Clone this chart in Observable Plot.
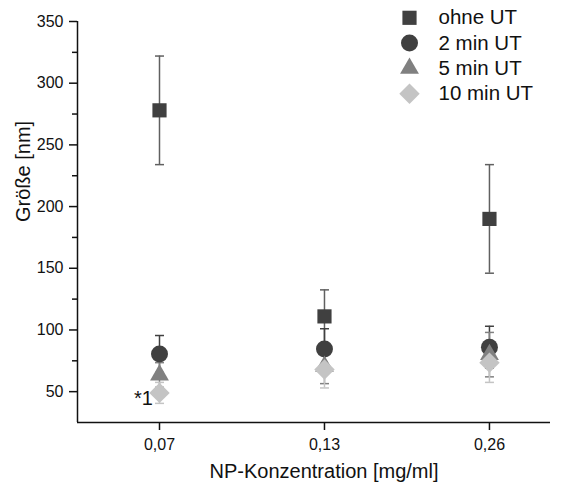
<!DOCTYPE html>
<html>
<head>
<meta charset="utf-8">
<script src="https://cdn.jsdelivr.net/npm/d3@7"></script>
<script src="https://cdn.jsdelivr.net/npm/@observablehq/plot@0.6"></script>
<style>
  html, body { margin: 0; padding: 0; background: #fff; }
  #chart { width: 568px; height: 489px; }
</style>
</head>
<body>
<div id="chart"></div>
<script>
// ---- data ----
const categories = ["0,07", "0,13", "0,26"];
const series = ["ohne UT", "2 min UT", "5 min UT", "10 min UT"];
const ohneUT = [278, 111, 190];
const ohneUTErr = [44, 21.5, 44];
const min2UT = [80.5, 84.5, 86];
const min2UTErr = [15, 16.5, 17];
const min5UT = [63.5, 70.5, 80];
const min5UTErr = [10, 14, 18];
const min10UT = [49, 68, 73.5];
const min10UTErr = [8.5, 15, 16];
const yMajorTicks = [50, 100, 150, 200, 250, 300, 350];
const yMinorTicks = [75, 125, 175, 225, 275, 325];
const annotationText = ["*1"];
const annotationCategory = [0];
const annotationValue = [49];

// ---- styles ----
const symbols = ["square", "circle", "triangle", "diamond2"];
const fills = ["#404040", "#404040", "#808080", "#c4c4c4"];
const errColors = ["#606060", "#404040", "#808080", "#c4c4c4"];
const radii = [8, 8.5, 7, 9.2];

const values = [ohneUT, min2UT, min5UT, min10UT];
const errs = [ohneUTErr, min2UTErr, min5UTErr, min10UTErr];

const rows = series.map((s, si) => categories.map((c, ci) => ({
  series: s, si, xi: ci + 1, y: values[si][ci],
  lo: values[si][ci] - errs[si][ci], hi: values[si][ci] + errs[si][ci]
})));

const cap = { draw(ctx) { ctx.moveTo(-4.5, 0); ctx.lineTo(4.5, 0); } };

const W = 568, H = 489, mL = 77, mR = 18, mT = 21, mB = 67;
const xDomain = [0.503, 3.37];
const yDomain = [25, 350];

const marks = [];
// error bars
rows.forEach((r, si) => {
  marks.push(Plot.ruleX(r, { x: "xi", y1: "lo", y2: "hi", stroke: errColors[si], strokeWidth: 1.5 }));
  marks.push(Plot.dot(r, { x: "xi", y: "lo", symbol: cap, stroke: errColors[si], strokeWidth: 1.5, fill: "none" }));
  marks.push(Plot.dot(r, { x: "xi", y: "hi", symbol: cap, stroke: errColors[si], strokeWidth: 1.5, fill: "none" }));
});
// symbols
rows.forEach((r, si) => {
  marks.push(Plot.dot(r, { x: "xi", y: "y", symbol: symbols[si], fill: fills[si], r: radii[si], stroke: "none" }));
});
// annotation
marks.push(Plot.text(annotationText.map((t, i) => ({ t, x: annotationCategory[i] + 1, y: annotationValue[i] })),
  { x: "x", y: "y", text: "t", dx: -16, dy: 6, fontSize: 20, fill: "#111" }));
// axes
marks.push(Plot.axisY({ ticks: yMajorTicks, tickSize: 8, tickPadding: 6, fontSize: 16, label: null, stroke: "#111", strokeWidth: 1.5, fill: "#111" }));
marks.push(Plot.axisY({ ticks: yMinorTicks, tickSize: 5, tickFormat: () => "", label: null, stroke: "#111", strokeWidth: 1.5 }));
marks.push(Plot.axisX({ ticks: [1, 2, 3], tickFormat: i => categories[i - 1], tickSize: 8, tickPadding: 8, fontSize: 16, label: null, stroke: "#111", strokeWidth: 1.5, fill: "#111" }));
marks.push(Plot.ruleX([xDomain[0]], { stroke: "#111", strokeWidth: 1.5 }));
marks.push(Plot.ruleY([yDomain[0]], { stroke: "#111", strokeWidth: 1.5 }));
// axis titles
marks.push(Plot.text(["NP-Konzentration [mg/ml]"], { frameAnchor: "bottom", dx: 10, dy: 55, fontSize: 20, fill: "#111" }));
marks.push(Plot.text(["Größe [nm]"], { frameAnchor: "left", dx: -54, rotate: -90, fontSize: 20, fill: "#111" }));
// legend
series.forEach((s, i) => {
  const dy = -3.7 + i * 25.3;
  marks.push(Plot.dot([s], { frameAnchor: "top-left", dx: 409 - mL, dy, symbol: symbols[i], fill: fills[i], r: radii[i], stroke: "none" }));
  marks.push(Plot.text([s], { frameAnchor: "top-left", dx: 438 - mL, dy, text: d => d, textAnchor: "start", lineAnchor: "middle", fontSize: 20.5, fill: "#111" }));
});

const chart = Plot.plot({
  width: W, height: H,
  marginLeft: mL, marginRight: mR, marginTop: mT, marginBottom: mB,
  style: { fontFamily: "'Liberation Sans', Arial, sans-serif", fontSize: "16px", background: "#fff", color: "#111" },
  x: { type: "linear", domain: xDomain, axis: null },
  y: { type: "linear", domain: yDomain, axis: null },
  marks
});
document.getElementById("chart").appendChild(chart);
</script>
</body>
</html>
